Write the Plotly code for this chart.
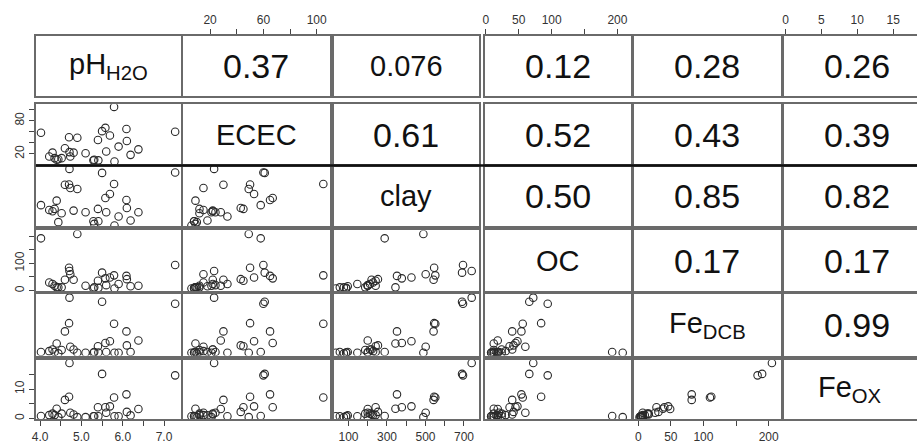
import plotly.graph_objects as go

# ---------------- data ----------------
var_labels = ["pH<sub>H2O</sub>", "ECEC", "clay", "OC", "Fe<sub>DCB</sub>", "Fe<sub>OX</sub>"]

ph    = [4.02, 4.22, 4.30, 4.35, 4.40, 4.44, 4.52, 4.60, 4.70, 4.71, 4.73, 4.81, 4.90, 5.10, 5.29,
         5.31, 5.40, 5.41, 5.50, 5.58, 5.60, 5.69, 5.79, 5.80, 5.90, 6.09, 6.10, 6.19, 6.38, 7.27]
ecec  = [58, 15, 22, 12, 9, 10, 12, 30, 50, 23, 15, 22, 49, 21, 8,
         9, 45, 8, 61, 67, 24, 53, 105, 6, 33, 65, 43, 18, 28, 60]
clay  = [288, 228, 212, 241, 344, 76, 187, 542, 545, 740, 501, 220, 489, 200, 88,
         55, 241, 88, 690, 377, 200, 427, 551, 34, 146, 352, 253, 96, 200, 695]
oc    = [192, 30, 24, 18, 12, 12, 12, 40, 84, 72, 60, 40, 208, 18, 8,
         12, 36, 10, 66, 45, 20, 48, 56, 8, 24, 54, 42, 16, 18, 94]
fedcb = [7, 10, 16, 7, 38, 2, 14, 82, 112, 205, 26, 16, 4, 4, 4,
         7, 28, 5, 190, 40, 7, 46, 110, 4, 4, 82, 31, 7, 49, 183]
feox  = [0.8, 1.1, 1.6, 1.1, 3.3, 0.4, 1.6, 6.3, 7.4, 18.9, 1.9, 1.3, 0.4, 0.4, 0.7,
         0.7, 3.8, 0.7, 15.2, 3.8, 1.9, 4.1, 7.1, 0.7, 0.7, 8.2, 2.2, 1.0, 3.2, 14.7]

# correlation labels shown in the upper triangle, row by row
cor_row1 = ["0.37", "0.076", "0.12", "0.28", "0.26"]
cor_row2 = ["0.61", "0.52", "0.43", "0.39"]
cor_row3 = ["0.50", "0.85", "0.82"]
cor_row4 = ["0.17", "0.17"]
cor_row5 = ["0.99"]

# tick values: (labelled ticks, unlabelled ticks)
ph_ticks = ([4.0, 5.0, 6.0, 7.0], [4.5, 5.5, 6.5])
ph_ticktext = ["4.0", "5.0", "6.0", "7.0"]
ecec_top = ([20, 60, 100], [40, 80])
ecec_left = ([20, 80], [40, 60, 100])
clay_ticks = ([100, 300, 500, 700], [200, 400, 600])
oc_top = ([0, 50, 100, 200], [150])
oc_left = ([0, 100], [50, 150, 200])
fedcb_ticks = ([0, 50, 100, 200], [150])
feox_top = ([0, 5, 10, 15], [])
feox_left = ([0, 10], [5, 15])

data = [ph, ecec, clay, oc, fedcb, feox]
cors = [cor_row1, cor_row2, cor_row3, cor_row4, cor_row5]

# ---------------- layout geometry ----------------
W, H = 917, 444
col_px = [(32, 178), (180, 327), (331, 477), (483, 630), (633, 780), (783, 917)]
row_px = [(36, 97), (105, 166), (167, 228), (232, 293), (296, 358), (362, 422)]
ranges = [(3.896, 7.417), (-0.19, 109.7), (22.4, 777.6), (-1.5, 221.0), (-6.1, 218.3), (-0.28, 20.1)]
col6_xrange = (-0.28, 18.33)

FONT = "Liberation Sans, Arial, sans-serif"
BORDER = "#6a6a6a"
TICKC = "#444"

bottom_ticks = {0: ph_ticks, 2: clay_ticks, 4: fedcb_ticks}
bottom_text = {0: ph_ticktext}
top_ticks = {1: ecec_top, 3: oc_top, 5: feox_top}
left_ticks = {1: ecec_left, 3: oc_left, 5: feox_left}


def tick_style(vals):
    major, minor = vals
    d = dict(ticks="outside", ticklen=5, tickwidth=1, tickcolor=TICKC,
             tickmode="array", tickvals=major, showticklabels=True,
             tickfont=dict(family=FONT, size=12, color="#333"))
    if minor:
        d["minor"] = dict(tickmode="array", tickvals=minor, ticks="outside",
                          ticklen=5, tickwidth=1, tickcolor=TICKC, showgrid=False)
    return d


fig = go.Figure()
layout = {}
annotations = []

for i in range(6):
    for j in range(6):
        k = i * 6 + j + 1
        xs = "" if k == 1 else str(k)
        xd = [col_px[j][0] / W, col_px[j][1] / W]
        yd = [1 - row_px[i][1] / H, 1 - row_px[i][0] / H]
        xr = col6_xrange if j == 5 else ranges[j]
        xa = dict(domain=xd, range=list(xr), anchor="y" + xs, showgrid=False, zeroline=False,
                  showline=True, mirror=True, linecolor=BORDER, linewidth=2,
                  ticks="", showticklabels=False)
        ya = dict(domain=yd, range=list(ranges[i]), anchor="x" + xs, showgrid=False, zeroline=False,
                  showline=True, mirror=(j != 5), linecolor=BORDER, linewidth=2,
                  ticks="", showticklabels=False)
        if i == 5 and j in bottom_ticks:
            xa.update(tick_style(bottom_ticks[j]), side="bottom")
            if j in bottom_text:
                xa["ticktext"] = bottom_text[j]
        if i == 0 and j in top_ticks:
            xa.update(tick_style(top_ticks[j]), side="top")
        if j == 0 and i in left_ticks:
            ya.update(tick_style(left_ticks[i]), side="left", tickangle=-90)
        layout["xaxis" + xs] = xa
        layout["yaxis" + xs] = ya

        if i > j:
            fig.add_trace(go.Scatter(
                x=data[j], y=data[i], mode="markers", xaxis="x" + xs, yaxis="y" + xs,
                marker=dict(symbol="circle-open", size=7.5, color="#2a2a2a", line=dict(width=1.1)),
                showlegend=False, hoverinfo="skip"))
        else:
            fig.add_trace(go.Scatter(x=[None], y=[None], mode="markers", xaxis="x" + xs,
                                     yaxis="y" + xs, showlegend=False, hoverinfo="skip"))
            if i == j:
                txt, size = var_labels[i], 29
                cx = (xd[0] + xd[1]) / 2
            else:
                txt = cors[i][j - i - 1]
                size = 29 if len(txt) > 4 else 34
                cx = (col_px[j][0] + 147 / 2) / W if j == 5 else (xd[0] + xd[1]) / 2
            annotations.append(dict(text=txt, x=cx, y=(yd[0] + yd[1]) / 2,
                                    xref="paper", yref="paper", xanchor="center", yanchor="middle",
                                    showarrow=False, font=dict(family=FONT, size=size, color="#111")))

shapes = [dict(type="line", xref="paper", yref="paper", x0=col_px[0][0] / W, x1=1.0,
               y0=1 - 166.5 / H, y1=1 - 166.5 / H, line=dict(color="#111", width=2.5))]

fig.update_layout(**layout)
fig.update_layout(width=W, height=H, margin=dict(l=0, r=0, t=0, b=0),
                  paper_bgcolor="white", plot_bgcolor="white",
                  annotations=annotations, shapes=shapes, showlegend=False)

fig.write_html("out.html")
